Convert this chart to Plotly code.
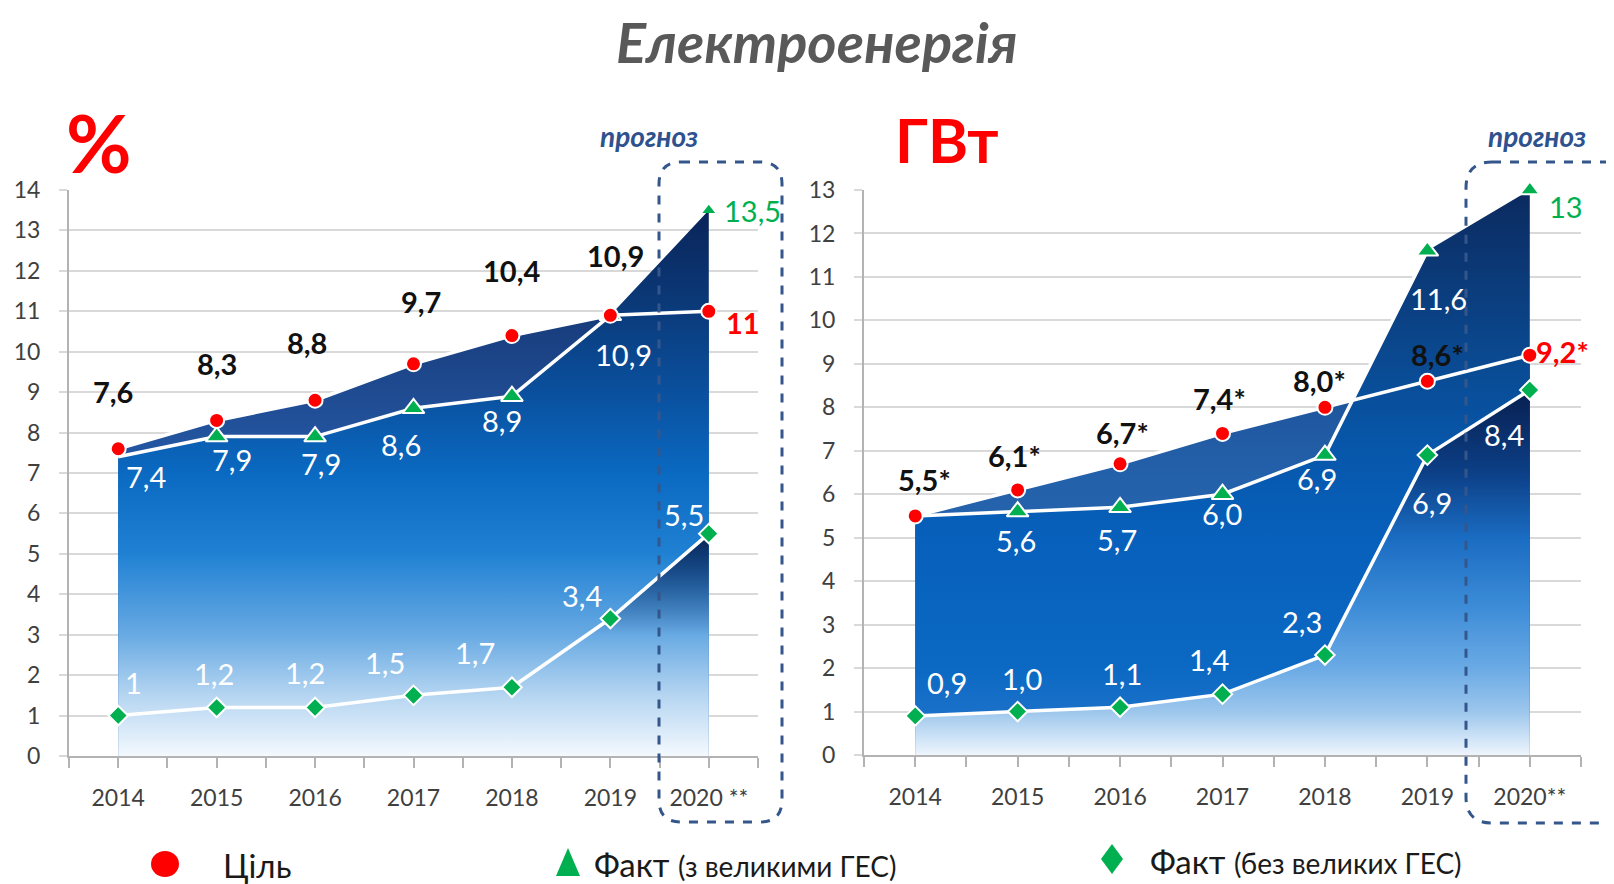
import plotly.graph_objects as go

# ---------------- data ----------------
years = [2014, 2015, 2016, 2017, 2018, 2019, 2020]
year_labels_pct = ["2014", "2015", "2016", "2017", "2018", "2019", "2020 **"]
year_labels_gw = ["2014", "2015", "2016", "2017", "2018", "2019", "2020**"]

pct_target = [7.6, 8.3, 8.8, 9.7, 10.4, 10.9, 11]
pct_fact_hydro = [7.4, 7.9, 7.9, 8.6, 8.9, 10.9, 13.5]
pct_fact_nohydro = [1, 1.2, 1.2, 1.5, 1.7, 3.4, 5.5]

gw_target = [5.5, 6.1, 6.7, 7.4, 8.0, 8.6, 9.2]
gw_fact_hydro = [5.5, 5.6, 5.7, 6.0, 6.9, 11.6, 13]
gw_fact_nohydro = [0.9, 1.0, 1.1, 1.4, 2.3, 6.9, 8.4]

# ---------------- styles ----------------
PAGE_W, PAGE_H = 1614, 884
OFF = 8  # default page (body) margin of the html page
W, H = PAGE_W - OFF, PAGE_H - OFF
RED = "#ff0000"
GREEN = "#00b050"
FONT = "Lato"

# label offsets in pixels (xshift, yshift)
pct_target_off = [(-5, 57), (0, 57), (-8, 58), (7, 62), (0, 65), (5, 60), (34, -11)]
pct_hydro_off = [(28, -20), (15, -23), (6, -27), (-13, -36), (-10, -24), (13, -39), (44, 0)]
pct_nohydro_off = [(15, 33), (-3, 34), (-10, 35), (-29, 33), (-37, 35), (-28, 23), (-25, 19)]
gw_target_off = [(9, 36), (-3, 34), (2, 31), (-3, 35), (-5, 27), (10, 27), (33, 4)]
gw_hydro_off = [None, (-2, -29), (-3, -32), (-1, -19), (-8, -23), (11, -48), (36, -16)]
gw_nohydro_off = [(32, 33), (4, 33), (2, 34), (-14, 35), (-23, 34), (5, -47), (-26, -45)]

# fill gradients: (value, colour)
pct_band_grad = [(0, "#2b60aa"), (7.7, "#2455a0"), (11, "#173b7a")]
pct_hydro_grad = [(0, "#f4f9fe"), (1.5, "#b5d5f1"), (3, "#68aae3"), (5, "#2081d3"), (7, "#0a69c1"),
                  (9, "#0a509e"), (11, "#0b3b7b"), (13.5, "#0a2458")]
pct_nohydro_grad = [(0, "rgba(10,36,88,0)"), (3.0, "rgba(10,36,88,0)"), (5.5, "rgba(9,34,84,0.97)")]
gw_band_grad = [(0, "#2d6cb3"), (6.4, "#2461ab"), (9.2, "#1b4f95")]
gw_hydro_grad = [(0, "#5c9fe0"), (1, "#1a70c8"), (2, "#0b69c3"), (5, "#0760bb"), (7, "#0757ab"),
                 (9, "#0a4a92"), (11, "#0b3a78"), (13, "#0b2a5f")]
gw_nohydro_grad = [(0, "#eef5fc"), (0.5, "#c5def5"), (1, "#9cc6ec"), (2, "#6aaae5"), (3.5, "#3a8ad6"),
                   (5, "#1a6cc2"), (6.5, "#0c3f86"), (8.4, "#081f50")]


def px_x(p):
    return (p - OFF) / W


def px_y(p):
    return 1 - (p - OFF) / H


def fmt_pct(v):
    return f"{v:g}".replace(".", ",")


def fmt_gw(v):
    s = f"{v:.1f}" if v < 10 else f"{v:g}"
    return s.replace(".", ",")


def scale(stops):
    top = stops[-1][0]
    return [[v / top, c] for v, c in stops]


fig = go.Figure()


def area(xs, ys, vals, stops):
    fig.add_trace(go.Scatter(
        x=years, y=vals, xaxis=xs, yaxis=ys, mode="lines", line=dict(width=0),
        fill="tozeroy",
        fillgradient=dict(type="vertical", colorscale=scale(stops), start=0, stop=stops[-1][0]),
        hoverinfo="skip"))


def add_panel(xs, ys, target, hydro, nohydro, band_grad, hydro_grad, nohydro_grad):
    area(xs, ys, target, band_grad)
    area(xs, ys, hydro, hydro_grad)
    area(xs, ys, nohydro, nohydro_grad)
    fig.add_trace(go.Scatter(x=years, y=nohydro, xaxis=xs, yaxis=ys, mode="lines+markers",
                             line=dict(color="white", width=3.5),
                             marker=dict(symbol="diamond", size=15, color=GREEN,
                                         line=dict(color="white", width=2)),
                             cliponaxis=False, hoverinfo="skip"))
    fig.add_trace(go.Scatter(x=years[:6], y=hydro[:6], xaxis=xs, yaxis=ys, mode="lines",
                             line=dict(color="white", width=3.5), cliponaxis=False, hoverinfo="skip"))
    fig.add_trace(go.Scatter(x=years[1:6], y=hydro[1:6], xaxis=xs, yaxis=ys, mode="markers",
                             marker=dict(symbol="triangle-up", size=19, color=GREEN,
                                         line=dict(color="white", width=2)),
                             cliponaxis=False, hoverinfo="skip"))
    fig.add_trace(go.Scatter(x=years, y=target, xaxis=xs, yaxis=ys, mode="lines+markers",
                             line=dict(color="white", width=3.5),
                             marker=dict(symbol="circle", size=15, color=RED,
                                         line=dict(color="white", width=2)),
                             cliponaxis=False, hoverinfo="skip"))


add_panel("x", "y", pct_target, pct_fact_hydro, pct_fact_nohydro,
          pct_band_grad, pct_hydro_grad, pct_nohydro_grad)
add_panel("x2", "y2", gw_target, gw_fact_hydro, gw_fact_nohydro,
          gw_band_grad, gw_hydro_grad, gw_nohydro_grad)

fig.add_trace(go.Scatter(x=[years[6]], y=[pct_fact_hydro[6]], xaxis="x", yaxis="y", mode="markers",
                         marker=dict(symbol="triangle-up", size=11, color=GREEN),
                         cliponaxis=False, hoverinfo="skip"))
fig.add_trace(go.Scatter(x=[years[6]], y=[gw_fact_hydro[6]], xaxis="x2", yaxis="y2", mode="markers",
                         marker=dict(symbol="triangle-up", size=17, color=GREEN,
                                     line=dict(color="white", width=2)),
                         cliponaxis=False, hoverinfo="skip"))

annotations = []


def add_labels(xs, ys, vals, offs, fmt, colors, bold, suffix=""):
    for i, (x, v) in enumerate(zip(years, vals)):
        if offs[i] is None:
            continue
        t = fmt(v) + suffix
        if bold:
            t = f"<b>{t}</b>"
        annotations.append(dict(x=x, y=v, xref=xs, yref=ys, text=t, showarrow=False,
                                xanchor="center", yanchor="middle",
                                xshift=offs[i][0], yshift=offs[i][1],
                                font=dict(family=FONT, size=29, color=colors[i])))


add_labels("x", "y", pct_target, pct_target_off, fmt_pct, ["#111111"] * 6 + [RED], True)
add_labels("x", "y", pct_fact_hydro, pct_hydro_off, fmt_pct, ["white"] * 6 + [GREEN], False)
add_labels("x", "y", pct_fact_nohydro, pct_nohydro_off, fmt_pct, ["white"] * 7, False)
add_labels("x2", "y2", gw_target, gw_target_off, fmt_gw, ["#111111"] * 6 + [RED], True, "*")
add_labels("x2", "y2", gw_fact_hydro, gw_hydro_off, fmt_gw, ["white"] * 6 + [GREEN], False)
add_labels("x2", "y2", gw_fact_nohydro, gw_nohydro_off, fmt_gw, ["white"] * 7, False)

annotations += [
    dict(x=px_x(816), y=px_y(42), xref="paper", yref="paper", text="<b><i>Електроенергія</i></b>",
         showarrow=False, xanchor="center", yanchor="middle",
         font=dict(family=FONT, size=56, color="#595959")),
    dict(x=px_x(99), y=px_y(142), xref="paper", yref="paper", text="<b>%</b>",
         showarrow=False, xanchor="center", yanchor="middle",
         font=dict(family=FONT, size=80, color=RED)),
    dict(x=px_x(947), y=px_y(139), xref="paper", yref="paper", text="<b>ГВт</b>",
         showarrow=False, xanchor="center", yanchor="middle",
         font=dict(family=FONT, size=61, color=RED)),
    dict(x=px_x(649), y=px_y(136), xref="paper", yref="paper", text="<b><i>прогноз</i></b>",
         showarrow=False, xanchor="center", yanchor="middle",
         font=dict(family=FONT, size=28, color="#2f528f")),
    dict(x=px_x(1537), y=px_y(136), xref="paper", yref="paper", text="<b><i>прогноз</i></b>",
         showarrow=False, xanchor="center", yanchor="middle",
         font=dict(family=FONT, size=28, color="#2f528f")),
    dict(x=px_x(221), y=px_y(865), xref="paper", yref="paper", text="Ціль",
         showarrow=False, xanchor="left", yanchor="middle",
         font=dict(family=FONT, size=33, color="#1a1a1a")),
    dict(x=px_x(592), y=px_y(864), xref="paper", yref="paper",
         text="Факт <span style='font-size:28px'>(з великими ГЕС)</span>",
         showarrow=False, xanchor="left", yanchor="middle",
         font=dict(family=FONT, size=33, color="#1a1a1a")),
    dict(x=px_x(1148), y=px_y(861), xref="paper", yref="paper",
         text="Факт <span style='font-size:28px'>(без великих ГЕС)</span>",
         showarrow=False, xanchor="left", yanchor="middle",
         font=dict(family=FONT, size=33, color="#1a1a1a")),
]


def rounded_box(x0, y0, x1, y1, r):
    X0, X1 = px_x(x0), px_x(x1)
    Y0, Y1 = px_y(y0), px_y(y1)
    rx, ry = r / W, r / H
    return (f"M {X0 + rx},{Y0} L {X1 - rx},{Y0} Q {X1},{Y0} {X1},{Y0 - ry} "
            f"L {X1},{Y1 + ry} Q {X1},{Y1} {X1 - rx},{Y1} L {X0 + rx},{Y1} "
            f"Q {X0},{Y1} {X0},{Y1 + ry} L {X0},{Y0 - ry} Q {X0},{Y0} {X0 + rx},{Y0} Z")


def tri(cx, cy, w, h):
    return (f"M {px_x(cx - w / 2)},{px_y(cy + h / 2)} L {px_x(cx + w / 2)},{px_y(cy + h / 2)} "
            f"L {px_x(cx)},{px_y(cy - h / 2)} Z")


def dia(cx, cy, w, h):
    return (f"M {px_x(cx)},{px_y(cy - h / 2)} L {px_x(cx + w / 2)},{px_y(cy)} "
            f"L {px_x(cx)},{px_y(cy + h / 2)} L {px_x(cx - w / 2)},{px_y(cy)} Z")


shapes = [
    dict(type="path", xref="paper", yref="paper", path=rounded_box(659, 162, 782, 822, 22),
         line=dict(color="#34568b", width=3, dash="dash"), layer="above"),
    dict(type="path", xref="paper", yref="paper", path=rounded_box(1466, 162, 1630, 823, 26),
         line=dict(color="#34568b", width=3, dash="dash"), layer="above"),
    dict(type="circle", xref="paper", yref="paper", x0=px_x(151), x1=px_x(179), y0=px_y(877), y1=px_y(851),
         fillcolor=RED, line=dict(width=0)),
    dict(type="path", xref="paper", yref="paper", path=tri(568, 862, 24, 28),
         fillcolor=GREEN, line=dict(width=0)),
    dict(type="path", xref="paper", yref="paper", path=dia(1112, 859, 22, 30),
         fillcolor=GREEN, line=dict(width=0)),
]

axis_common = dict(showline=True, linecolor="#b3b3b3", linewidth=2, zeroline=False, mirror=False,
                   automargin=False)
xaxis_common = dict(range=[2013.5, 2020.5], tickvals=years, ticks="outside", ticklen=10,
                    tickcolor="#b3b3b3", tickwidth=1.5, showgrid=False, ticklabelstandoff=10,
                    minor=dict(ticks="outside", tick0=2013.5, dtick=1, ticklen=10, tickcolor="#b3b3b3",
                               tickwidth=1.5, showgrid=False),
                    tickfont=dict(family=FONT, size=23, color="#404040"), **axis_common)
yaxis_common = dict(dtick=1, showgrid=True, gridcolor="#d9d9d9", gridwidth=2, ticks="outside", ticklen=8,
                    tickcolor="#d9d9d9", tickwidth=2, ticklabelstandoff=14,
                    tickfont=dict(family=FONT, size=23, color="#404040"), **axis_common)

fig.update_layout(
    width=W, height=H, margin=dict(l=0, r=0, t=0, b=0, pad=0, autoexpand=False),
    paper_bgcolor="white", plot_bgcolor="white", showlegend=False,
    annotations=annotations, shapes=shapes,
    xaxis=dict(domain=[px_x(69), px_x(758)], ticktext=year_labels_pct, anchor="y", **xaxis_common),
    yaxis=dict(domain=[px_y(756), px_y(190)], range=[0, 14], anchor="x", **yaxis_common),
    xaxis2=dict(domain=[px_x(864), px_x(1581)], ticktext=year_labels_gw, anchor="y2", **xaxis_common),
    yaxis2=dict(domain=[px_y(755), px_y(190)], range=[0, 13], anchor="x2", **yaxis_common),
)

fig.write_html("out.html")
